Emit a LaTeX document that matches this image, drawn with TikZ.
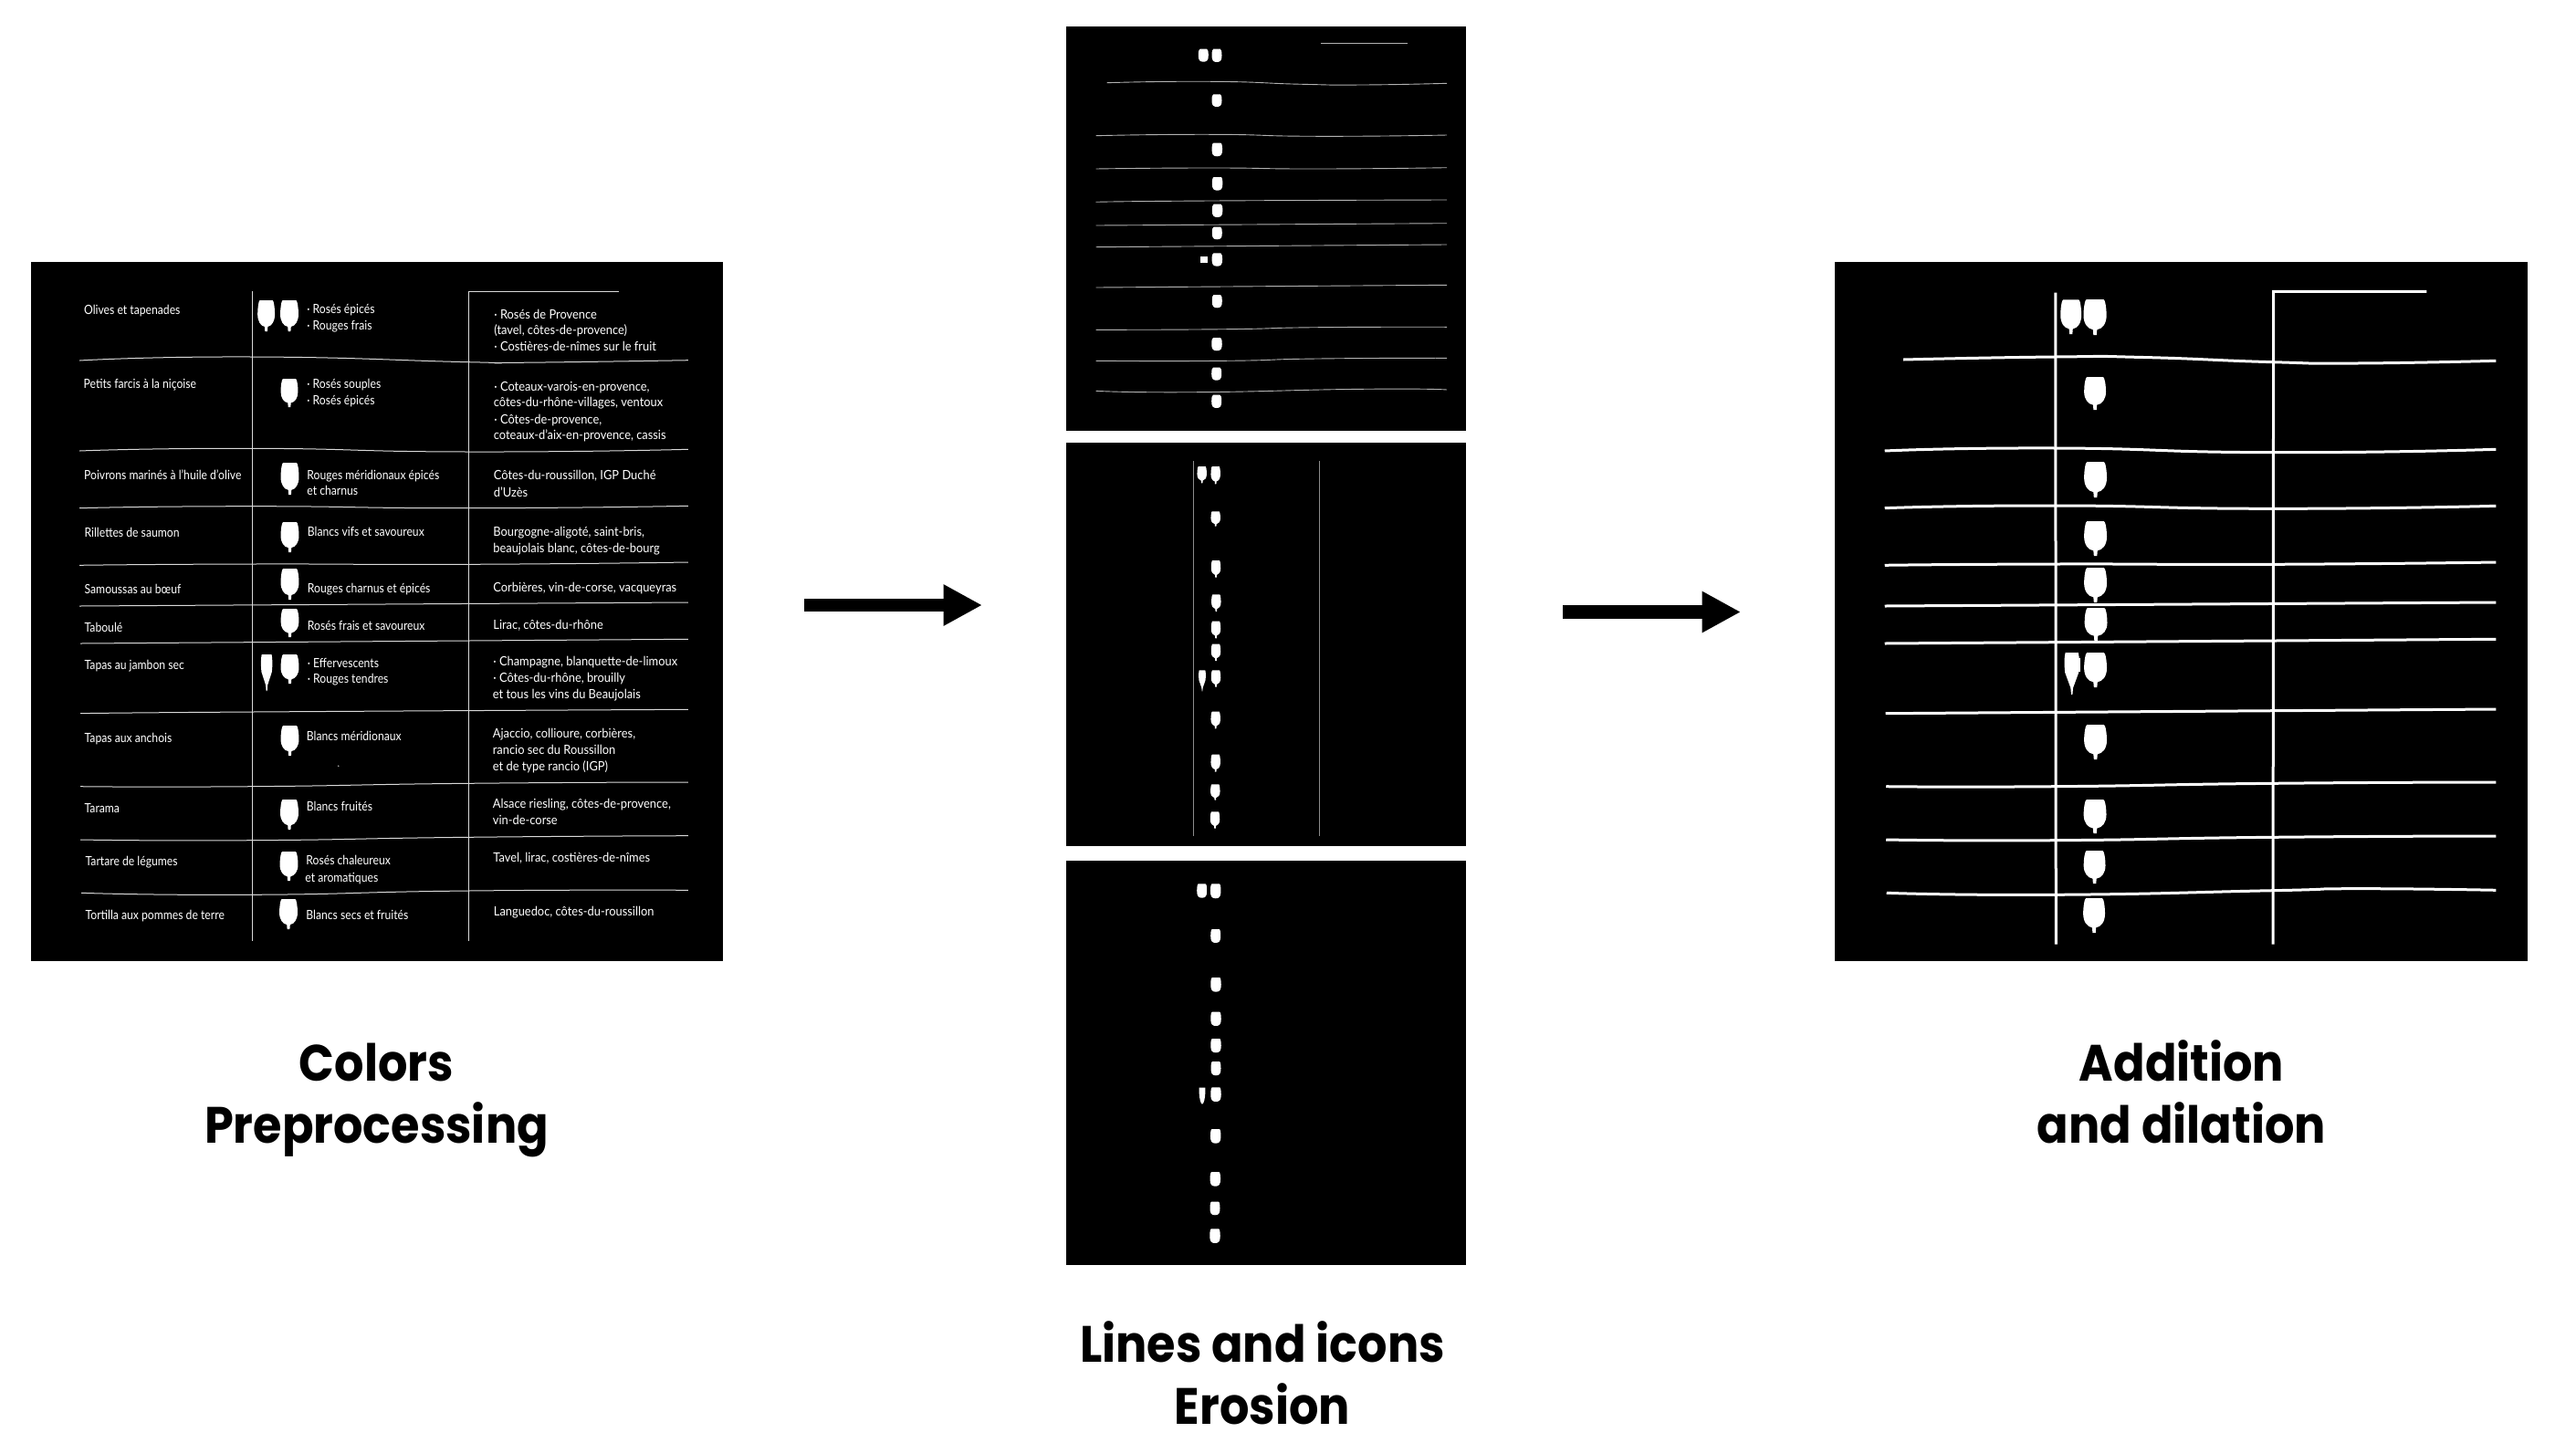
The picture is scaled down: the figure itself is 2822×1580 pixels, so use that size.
\documentclass[tikz,border=0pt]{standalone}
\usepackage{fontspec}
\usetikzlibrary{arrows.meta}
\setmainfont{Lato}
\newfontfamily\tblfont[FakeStretch=0.87]{Lato}
\newfontfamily\tblwide[FakeStretch=0.92]{Lato}
\newfontfamily\ttlfont[FakeStretch=0.91]{Poppins}
\newcounter{tc}
\tikzset{
  panelbox/.style={fill=black,draw=none,inner sep=0pt,outer sep=0pt,anchor=north west},
  cell/.style={anchor=base west,inner sep=0pt,outer sep=0pt,text=white,font=\tblfont\fontsize{14}{14}\selectfont},
  cellwide/.style={cell,font=\tblwide\fontsize{14}{14}\selectfont},
  title/.style={anchor=base,inner sep=0pt,outer sep=0pt,text=black,font=\ttlfont\bfseries\fontsize{56}{56}\selectfont},
  thinln/.style={draw=white!85!black,line width=1pt},
  hairln/.style={draw=white!70!black,line width=0.9pt},
  vertln/.style={draw=white!55!black,line width=1pt},
  thickln/.style={draw=white,line width=3pt},
  bigarrow/.style={draw=black,line width=14.7pt,-{Triangle[length=42.4pt,width=42.4pt]}},
}
\newcommand{\tx}[3]{\stepcounter{tc}\node[cell] (t\thetc) at (#1,#2) {#3};}
\newcommand{\txw}[3]{\stepcounter{tc}\node[cellwide] (t\thetc) at (#1,#2) {#3};}
\newcommand{\glass}[4]{\fill[white,shift={(#1,#2)},xscale=#4,yscale={#3-#2}]
  (-.37,0) -- (.37,0) .. controls (.44,0) and (.5,.25) .. (.5,.45) .. controls (.5,.68) and (.32,.83) .. (.09,.85) -- (.07,1) -- (-.07,1) -- (-.09,.85) .. controls (-.32,.83) and (-.5,.68) .. (-.5,.45) .. controls (-.5,.25) and (-.44,0) .. (-.37,0) -- cycle;}
\newcommand{\flute}[4]{\fill[white,shift={(#1,#2)},xscale=#4,yscale={#3-#2}]
  (-.42,0) -- (.42,0) .. controls (.5,.12) and (.5,.3) .. (.44,.48) -- (.08,.84) -- (.04,1) -- (-.04,1) -- (-.08,.84) -- (-.44,.48) .. controls (-.5,.3) and (-.5,.12) .. (-.42,0) -- cycle;}
\newcommand{\blob}[4]{\fill[white,shift={(#1,#2)},xscale=#4,yscale={#3-#2}]
  (-.34,0) -- (.34,0) .. controls (.45,0) and (.5,.2) .. (.5,.5) .. controls (.5,.88) and (.35,1) .. (0,1) .. controls (-.35,1) and (-.5,.88) .. (-.5,.5) .. controls (-.5,.2) and (-.45,0) .. (-.34,0) -- cycle;}
\newcommand{\drop}[4]{\fill[white,shift={(#1,#2)},xscale=#4,yscale={#3-#2}]
  (-.45,0) -- (.45,0) .. controls (.5,.3) and (.4,.8) .. (.12,1) -- (-.12,1) .. controls (-.4,.8) and (-.5,.3) .. (-.45,0) -- cycle;}
\begin{document}
\begin{tikzpicture}[x=1pt,y=-1pt]
\useasboundingbox (0,0) rectangle (2822,1580);
\fill[white] (0,0) rectangle (2822,1580);
% panels
\node[panelbox,minimum width=758pt,minimum height=766pt] (colors) at (34,287) {};
\node[panelbox,minimum width=438pt,minimum height=443pt] (lines) at (1168,29) {};
\node[panelbox,minimum width=438pt,minimum height=442pt] (icons) at (1168,485) {};
\node[panelbox,minimum width=438pt,minimum height=443pt] (eroded) at (1168,943) {};
\node[panelbox,minimum width=759pt,minimum height=766pt] (added) at (2010,287) {};
% arrows
\coordinate (a1s) at (881,663);
\coordinate (a1e) at (1076,663);
\coordinate (a2s) at (1712,670.5);
\coordinate (a2e) at (1907,670.5);
\draw[bigarrow] (a1s) -- (a1e);
\draw[bigarrow] (a2s) -- (a2e);
% titles
\node[title] (tA1) at (412.5,1184) {Colors};
\node[title] (tA2) at (412.5,1252) {Preprocessing};
\node[title] (tB1) at (1383,1492) {Lines and icons};
\node[title] (tB2) at (1383,1560) {Erosion};
\node[title] (tC1) at (2390,1184) {Addition};
\node[title] (tC2) at (2390,1252) {and dilation};
\begin{scope}[shift={(20,0)},xscale=.995,shift={(-20,0)}]
% ---- panel 1 lines
\draw[thinln] plot[smooth,tension=1] coordinates {(87.5,395) (277.5,391) (515.5,396.7) (570,397.3) (757.5,394.7)};
\draw[thinln] plot[smooth,tension=1] coordinates {(87.5,494) (277.5,491.3) (515.5,495) (757.5,492.3)};
\draw[thinln] plot[smooth,tension=1] coordinates {(87.5,556.7) (277.5,554.7) (515.5,556.7) (757.5,554.3)};
\draw[thinln] plot[smooth,tension=1] coordinates {(87.5,619.3) (277.5,618) (515.5,618.3) (757.5,616)};
\draw[thinln] (87.5,664) -- (757.5,660);
\draw[thinln] (88.5,705) -- (757.5,700.3);
\draw[thinln] plot[smooth,tension=1] coordinates {(88.5,781.7) (277.5,780) (757.5,777.3)};
\draw[thinln] plot[smooth,tension=1] coordinates {(88.5,861.7) (277.5,861.7) (515.5,858.3) (757.5,857)};
\draw[thinln] plot[smooth,tension=1] coordinates {(88.5,920) (277.5,920.7) (515.5,917.3) (757.5,915.7)};
\draw[thinln] plot[smooth,tension=1] coordinates {(89.5,978.3) (277.5,980.3) (515.5,976) (757.5,975.3)};
\draw[thinln] (277.5,319.3) -- (277.5,1031);
\draw[thinln] (515.5,1031) -- (515.5,319.3) -- (681,319.3);
% ---- panel 1 glasses
\glass{293}{329}{363}{19}
\glass{318.5}{329}{363}{20}
\glass{318.5}{415}{446}{19}
\glass{319}{507}{542}{20}
\glass{319}{572}{605}{20}
\glass{319}{623}{657}{20}
\glass{319}{667}{698}{20}
\flute{293.5}{717}{757}{13}
\glass{319}{717}{749}{20}
\glass{319}{795}{828}{20}
\glass{318.5}{876}{909}{20}
\glass{318}{933}{965}{20}
\glass{317.5}{985}{1018}{20}
\fill[white!70!black] (372.5,839.3) circle (0.9pt);
% ---- panel 1 texts
\tx{92.5}{344}{Olives et tapenades}
\tx{92}{425.7}{Petits farcis à la niçoise}
\tx{92.5}{525}{Poivrons marinés à l’huile d’olive}
\tx{93}{588}{Rillettes de saumon}
\tx{93}{650.7}{Samoussas au bœuf}
\tx{93}{692}{Taboulé}
\tx{93}{733}{Tapas au jambon sec}
\tx{93}{813}{Tapas aux anchois}
\tx{93}{890}{Tarama}
\tx{94}{948.7}{Tartare de légumes}
\tx{94}{1007}{Tortilla aux pommes de terre}
\tx{338}{343.3}{· Rosés épicés}
\tx{338}{361.7}{· Rouges frais}
\tx{338}{425}{· Rosés souples}
\tx{338}{443.3}{· Rosés épicés}
\tx{338}{525}{Rouges méridionaux épicés}
\tx{338}{542.3}{et charnus}
\tx{338.5}{587.7}{Blancs vifs et savoureux}
\tx{338.5}{649.3}{Rouges charnus et épicés}
\tx{338.5}{690}{Rosés frais et savoureux}
\tx{338.5}{731}{· Effervescents}
\tx{338.5}{748.7}{· Rouges tendres}
\tx{337.5}{811}{Blancs méridionaux}
\tx{337.5}{888}{Blancs fruités}
\tx{337}{947.7}{Rosés chaleureux}
\tx{336}{966}{et aromatiques}
\tx{337}{1007}{Blancs secs et fruités}
\txw{544}{349}{· Rosés de Provence}
\txw{544}{366.7}{(tavel, côtes-de-provence)}
\txw{544}{384.3}{· Costières-de-nîmes sur le fruit}
\txw{544}{428.3}{· Coteaux-varois-en-provence,}
\txw{543.5}{445.7}{côtes-du-rhône-villages, ventoux}
\txw{544}{464.3}{· Côtes-de-provence,}
\txw{543.5}{481.7}{coteaux-d’aix-en-provence, cassis}
\txw{543.5}{525}{Côtes-du-roussillon, IGP Duché}
\txw{543.5}{544}{d’Uzès}
\txw{543}{587.3}{Bourgogne-aligoté, saint-bris,}
\txw{543}{605}{beaujolais blanc, côtes-de-bourg}
\txw{543}{648.3}{Corbières, vin-de-corse, vacqueyras}
\txw{543}{689}{Lirac, côtes-du-rhône}
\txw{543}{729}{· Champagne, blanquette-de-limoux}
\txw{543}{747}{· Côtes-du-rhône, brouilly}
\txw{542.5}{765}{et tous les vins du Beaujolais}
\txw{542.5}{808.7}{Ajaccio, collioure, corbières,}
\txw{542.5}{826.7}{rancio sec du Roussillon}
\txw{542.5}{844.3}{et de type rancio (IGP)}
\txw{542.5}{885.3}{Alsace riesling, côtes-de-provence,}
\txw{542.5}{903.3}{vin-de-corse}
\txw{543}{944}{Tavel, lirac, costières-de-nîmes}
\txw{543.5}{1003.3}{Languedoc, côtes-du-roussillon}
\end{scope}
% ---- top middle panel
\draw[hairln] (1446.7,47.7) -- (1541.7,47.7);
\draw[hairln] plot[smooth,tension=1] coordinates {(1212.7,90.7) (1326.7,89.3) (1426.7,92.3) (1493,93) (1585,91.3)};
\draw[hairln] plot[smooth,tension=1] coordinates {(1200.7,148.7) (1326.7,147.3) (1443,149.3) (1585,148)};
\draw[hairln] plot[smooth,tension=1] coordinates {(1200.7,185) (1326.7,184) (1443,185) (1585,183.7)};
\draw[hairln] plot[smooth,tension=1] coordinates {(1200.7,221.3) (1326.7,220) (1585,219)};
\draw[hairln] (1200.7,247) -- (1585,244.7);
\draw[hairln] (1200.7,270.7) -- (1585,268);
\draw[hairln] (1200.7,315) -- (1585,312.3);
\draw[hairln] plot[smooth,tension=1] coordinates {(1200.7,361.3) (1343,360.7) (1443,358.7) (1585,358.3)};
\draw[hairln] plot[smooth,tension=1] coordinates {(1200.7,395.3) (1343,395.3) (1443,393) (1585,392.3)};
\draw[hairln] plot[smooth,tension=1] coordinates {(1200.7,428.3) (1310,429.7) (1493,426.3) (1585,427)};
\blob{1318.3}{53.7}{67.7}{11}
\blob{1333}{53.7}{68}{11}
\blob{1333}{103.3}{117}{11}
\blob{1333.3}{156.7}{171.3}{11.5}
\blob{1333.6}{194}{208.7}{11.5}
\blob{1333.6}{223.7}{238}{11.5}
\blob{1333.3}{248.7}{262.3}{11}
\fill[white] (1315,281) rectangle (1322.7,288);
\blob{1333.3}{277.3}{291.7}{11.5}
\blob{1333.3}{323}{337.3}{11}
\blob{1333}{370}{384.3}{11.5}
\blob{1332.7}{402.7}{416.7}{11}
\blob{1332.7}{432.7}{447}{11}
% ---- middle middle panel
\draw[vertln] (1307.7,505) -- (1307.7,915.7);
\draw[vertln] (1445,505) -- (1445,915.7);
\glass{1316.7}{511}{529.3}{10.5}
\glass{1331.7}{511}{530.3}{10.5}
\glass{1331.7}{560.3}{576.7}{10.5}
\glass{1332}{614}{632.7}{10.5}
\glass{1332.3}{651.3}{670}{10.5}
\glass{1332}{680.7}{699.3}{10.5}
\glass{1332}{705.7}{724}{10.5}
\flute{1317}{734.3}{757.3}{8}
\glass{1332}{734.3}{752.7}{10.5}
\glass{1331.7}{779.7}{798.3}{10.5}
\glass{1331.7}{826.7}{845.7}{10.5}
\glass{1331.3}{859.3}{876.7}{10.5}
\glass{1331}{889.3}{907.7}{10.5}
% ---- bottom middle panel
\blob{1316.7}{968.3}{983.7}{11}
\blob{1331.7}{968.3}{984.3}{11.5}
\blob{1331.7}{1018}{1033}{11}
\blob{1332}{1071}{1086.7}{11.5}
\blob{1332}{1108.7}{1124}{11.5}
\blob{1332}{1138}{1153.3}{11.5}
\blob{1332}{1163}{1178.3}{11}
\drop{1317}{1191.7}{1209.3}{7.5}
\blob{1332}{1191.3}{1207}{11.5}
\blob{1331.7}{1237}{1252.7}{11.5}
\blob{1331.3}{1284}{1299.7}{11.5}
\blob{1331}{1316.7}{1331.3}{11}
\blob{1331}{1346.3}{1362}{11.5}
% ---- right panel
\begin{scope}[shift={(2010,0)},xscale=.995,shift={(-2010,0)}]
\draw[thickln] plot[smooth,tension=1] coordinates {(2085.5,394) (2253,391) (2350,391.5) (2492,396.7) (2585,398) (2738,395.3)};
\draw[thickln] plot[smooth,tension=1] coordinates {(2065,494) (2253.5,491) (2492.5,495.7) (2738,492.3)};
\draw[thickln] plot[smooth,tension=1] coordinates {(2065,556.7) (2253,554) (2492,557.3) (2738,554.3)};
\draw[thickln] plot[smooth,tension=1] coordinates {(2065,619.3) (2253.5,618) (2492,618.3) (2738,616)};
\draw[thickln] (2065,664) -- (2738,660);
\draw[thickln] (2065,705) -- (2738,700.3);
\draw[thickln] (2066,781.7) -- (2738,777);
\draw[thickln] plot[smooth,tension=1] coordinates {(2066.5,861.7) (2253,861.7) (2492,858.3) (2738,857)};
\draw[thickln] plot[smooth,tension=1] coordinates {(2066.5,920) (2253,920.7) (2492,917.3) (2738,916)};
\draw[thickln] plot[smooth,tension=1] coordinates {(2067,978.3) (2253,980.3) (2492,975.7) (2585,973.7) (2738,975.3)};
\draw[thickln] (2253,320.7) -- (2253.5,1034.7);
\draw[thickln] (2492.5,1034.7) -- (2493,319.3) -- (2661.5,319.3);
\glass{2270}{328.3}{366}{23}
\glass{2296.5}{328}{367}{25.3}
\glass{2296.5}{413}{449}{24}
\glass{2297}{506}{545}{25}
\glass{2297}{571}{609}{25}
\glass{2297}{622}{660}{25}
\glass{2297.5}{666}{702}{25}
\flute{2271}{715}{761}{17}
\fill[white] (2278,720.7) rectangle (2280.5,736);
\glass{2297}{715}{753}{25}
\glass{2297}{794}{832}{25}
\glass{2296.5}{876}{913}{25}
\glass{2296}{932}{968}{24}
\glass{2295.5}{984}{1022}{24}
\end{scope}
\end{tikzpicture}
\end{document}
